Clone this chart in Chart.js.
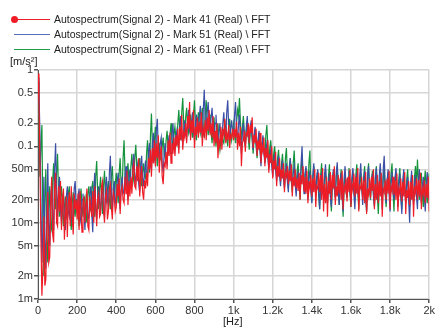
<!DOCTYPE html>
<html>
<head>
<meta charset="utf-8">
<script src="https://cdn.jsdelivr.net/npm/chart.js@4.4.0/dist/chart.umd.min.js"></script>
<style>
  body { margin: 0; background: #fff; }
  #wrap { position: relative; width: 436px; height: 328px; font-family: "Liberation Sans", Arial, sans-serif; font-size: 11px; color: #222; }
  #chart { position: absolute; left: 0; top: 0; }
  .row { position: absolute; left: 0; height: 14px; line-height: 14px; white-space: nowrap; font-size: 10.5px; }
  .swatch { position: absolute; left: 14px; top: 7px; width: 36px; border-top: 1.5px solid; }
  .dot { position: absolute; left: 11px; top: 4px; width: 7px; height: 7px; border-radius: 50%; }
  .label { position: absolute; left: 54px; top: 0; }
  .unit { position: absolute; }
</style>
</head>
<body>
<div id="wrap">
  <canvas id="chart" width="436" height="328"></canvas>
  <div id="legend"></div>
  <div class="unit" style="left:10px; top:55px;">[m/s²]</div>
  <div class="unit" style="left:223px; top:315px;">[Hz]</div>
</div>
<script>
// Series names and colours
const seriesNames = [
    'Autospectrum(Signal 2) - Mark 41 (Real) \\ FFT',
    'Autospectrum(Signal 2) - Mark 51 (Real) \\ FFT',
    'Autospectrum(Signal 2) - Mark 61 (Real) \\ FFT'
];
const seriesColors = ['#ee1c25', '#3a4fa6', '#14933c'];
const legendColors = ['#ee1c25', '#5a6cc0', '#1f9a45'];

// Spectrum values in milli m/s² (1 = 1m), one value every 5 Hz from 0 to 2000 Hz
// (one line = 100 Hz)
const freqStep = 5;

const mark41 = [
    900, 350, 60, 6, 1.1, 2.5, 12, 1.5, 1.8, 8, 25, 3, 3.5, 18, 40, 7, 5.5, 28, 45, 10,
    9, 30, 14, 35, 8, 20, 28, 6, 12, 22, 6.5, 18, 25, 9, 30, 12, 7, 24, 15, 20,
    11, 24, 8, 26, 14, 7.5, 18, 22, 10, 16, 28, 9, 8, 22, 15, 12, 26, 10, 30, 18,
    9, 20, 24, 12, 13, 30, 35, 15, 10, 22, 26, 11, 14, 28, 32, 16, 11, 25, 22, 14,
    16, 32, 22, 38, 13, 26, 30, 20, 18, 40, 24, 48, 17, 35, 22, 40, 24, 50, 60, 30,
    28, 55, 35, 70, 22, 40, 55, 25, 20, 36, 28, 45, 30, 70, 50, 90, 40, 95, 60, 120,
    55, 110, 70, 140, 45, 80, 100, 40, 32, 60, 55, 85, 50, 120, 75, 150, 60, 110, 80, 130,
    75, 140, 100, 170, 80, 180, 120, 260, 90, 150, 130, 200, 110, 250, 170, 380, 120, 220, 150, 300,
    95, 180, 140, 240, 130, 210, 150, 280, 100, 170, 140, 220, 120, 240, 160, 300, 140, 200, 130, 250,
    100, 160, 110, 200, 70, 120, 100, 180, 90, 170, 140, 230, 110, 150, 120, 190, 95, 140, 130, 170,
    120, 170, 130, 210, 90, 150, 100, 180, 55, 110, 120, 160, 85, 150, 140, 200, 110, 190, 150, 240,
    95, 140, 110, 170, 75, 120, 90, 150, 60, 100, 85, 130, 55, 95, 70, 120, 45, 80, 60, 100,
    38, 65, 50, 85, 30, 55, 40, 70, 35, 50, 38, 60, 25, 45, 40, 55, 32, 48, 35, 58,
    22, 40, 30, 50, 28, 38, 26, 45, 20, 42, 32, 55, 26, 40, 24, 48, 18, 35, 28, 42,
    22, 38, 25, 50, 16, 30, 28, 45, 25, 42, 20, 52, 14, 32, 18, 40, 12, 35, 24, 46,
    20, 42, 28, 55, 17, 30, 22, 42, 24, 38, 20, 48, 15, 30, 26, 38, 19, 40, 25, 50,
    16, 32, 27, 44, 22, 40, 24, 52, 14, 30, 28, 40, 20, 36, 18, 46, 13, 28, 23, 38,
    21, 40, 26, 50, 15, 32, 20, 42, 18, 35, 22, 45, 12, 28, 25, 36, 20, 38, 24, 48,
    15, 30, 26, 40, 23, 36, 20, 44, 14, 28, 24, 38, 19, 34, 22, 46, 13, 27, 21, 35,
    17, 34, 20, 42, 12, 30, 25, 38, 20, 36, 22, 45, 15, 28, 24, 36, 18, 32, 21, 40,
    14
];

const mark51 = [
    800, 500, 150, 20, 3, 8, 40, 6, 2.5, 15, 60, 10, 5, 22, 30, 12, 8, 50, 110, 25,
    12, 28, 40, 15, 10, 18, 25, 11, 8, 22, 30, 14, 12, 20, 22, 10, 9, 28, 35, 16,
    14, 22, 28, 12, 10, 20, 24, 14, 8, 16, 20, 11, 12, 24, 30, 13, 7.5, 26, 45, 15,
    11, 22, 30, 18, 15, 24, 28, 14, 12, 30, 40, 20, 16, 45, 75, 25, 14, 28, 35, 18,
    20, 35, 45, 22, 15, 30, 40, 24, 25, 42, 55, 28, 20, 38, 50, 30, 30, 60, 80, 40,
    35, 50, 60, 32, 25, 55, 75, 38, 30, 48, 65, 40, 40, 85, 110, 55, 50, 110, 150, 70,
    60, 160, 230, 90, 70, 110, 130, 60, 45, 80, 110, 65, 60, 100, 140, 85, 80, 150, 200, 110,
    90, 130, 160, 110, 100, 190, 250, 130, 110, 170, 220, 140, 130, 220, 300, 160, 140, 210, 280, 150,
    120, 200, 260, 170, 150, 250, 340, 180, 130, 300, 550, 220, 160, 280, 380, 200, 150, 240, 320, 170,
    120, 200, 260, 140, 95, 150, 200, 120, 110, 200, 280, 150, 130, 280, 400, 180, 120, 170, 220, 150,
    140, 260, 380, 170, 110, 190, 260, 130, 80, 150, 200, 120, 100, 180, 250, 140, 120, 170, 220, 130,
    90, 140, 180, 110, 80, 120, 160, 90, 55, 100, 140, 80, 60, 90, 110, 70, 50, 75, 90, 55,
    40, 60, 80, 48, 35, 55, 75, 42, 30, 50, 65, 38, 28, 45, 60, 35, 25, 50, 70, 40,
    30, 45, 55, 32, 22, 38, 48, 30, 26, 60, 100, 40, 24, 42, 55, 30, 20, 38, 48, 26,
    18, 40, 60, 30, 24, 40, 50, 28, 15, 32, 45, 25, 22, 42, 58, 30, 18, 34, 44, 22,
    16, 36, 50, 28, 21, 45, 62, 30, 17, 33, 45, 24, 14, 38, 55, 28, 22, 38, 48, 25,
    18, 38, 52, 24, 15, 32, 45, 26, 20, 42, 60, 30, 17, 34, 48, 24, 14, 40, 55, 28,
    23, 36, 44, 22, 16, 38, 52, 28, 19, 42, 60, 30, 15, 50, 75, 32, 18, 36, 50, 24,
    14, 32, 46, 26, 20, 38, 52, 28, 16, 32, 44, 22, 13, 35, 50, 26, 18, 30, 40, 20,
    10, 30, 48, 26, 17, 32, 42, 22, 15, 36, 50, 28, 18, 30, 40, 22, 14, 32, 46, 28,
    20
];

const mark61 = [
    700, 200, 40, 100, 190, 10, 2, 20, 50, 6, 3, 15, 30, 9, 8, 35, 60, 20, 15, 45,
    80, 25, 12, 22, 30, 14, 9, 16, 22, 12, 11, 24, 30, 13, 8, 18, 25, 15, 12, 20,
    20, 12, 9, 18, 28, 16, 12, 20, 22, 13, 10, 24, 30, 18, 14, 28, 35, 20, 12, 40,
    64, 25, 15, 28, 40, 20, 13, 30, 48, 24, 18, 28, 35, 20, 15, 40, 55, 28, 20, 32,
    45, 26, 18, 45, 70, 32, 25, 70, 120, 45, 30, 45, 60, 35, 28, 55, 80, 42, 35, 70,
    105, 55, 40, 55, 70, 42, 30, 45, 60, 40, 38, 80, 120, 60, 45, 140, 270, 100, 60, 120,
    180, 90, 55, 80, 110, 70, 65, 100, 130, 80, 70, 120, 160, 100, 85, 140, 200, 120, 100, 140,
    180, 130, 110, 200, 300, 160, 120, 280, 430, 200, 140, 240, 320, 180, 150, 200, 260, 170, 130, 250,
    400, 200, 120, 200, 280, 180, 150, 240, 320, 170, 130, 260, 400, 200, 140, 200, 260, 150, 110, 170,
    240, 140, 100, 150, 200, 120, 90, 120, 150, 120, 110, 150, 190, 130, 100, 170, 230, 150, 120, 160,
    200, 140, 110, 200, 300, 250, 430, 200, 120, 180, 250, 150, 100, 160, 220, 130, 90, 150, 200, 120,
    80, 130, 170, 100, 70, 110, 150, 90, 65, 100, 130, 90, 75, 140, 190, 100, 60, 95, 120, 75,
    50, 80, 100, 60, 40, 70, 90, 50, 35, 60, 80, 45, 30, 70, 95, 45, 28, 55, 70, 35,
    25, 60, 88, 40, 30, 48, 60, 30, 20, 50, 70, 35, 28, 42, 52, 30, 22, 60, 88, 30,
    19, 40, 55, 32, 26, 38, 48, 22, 15, 42, 60, 30, 23, 38, 50, 26, 18, 40, 58, 24,
    14, 32, 46, 28, 22, 40, 55, 26, 17, 36, 50, 22, 12, 30, 44, 26, 21, 38, 52, 24,
    16, 34, 48, 28, 20, 42, 58, 26, 15, 32, 45, 28, 22, 40, 55, 24, 14, 42, 60, 26,
    20, 36, 48, 24, 17, 40, 55, 22, 13, 30, 44, 26, 20, 38, 52, 24, 16, 34, 46, 28,
    22, 44, 60, 26, 14, 34, 48, 28, 19, 38, 52, 22, 15, 30, 44, 28, 21, 36, 50, 22,
    16, 30, 42, 24, 19, 40, 55, 30, 67, 35, 20, 32, 45, 24, 16, 34, 48, 26, 18, 30,
    44
];

// Axis ticks
const yTickValues = [1, 2, 5, 10, 20, 50, 100, 200, 500, 1000];
const yTickLabels = ['1m', '2m', '5m', '10m', '20m', '50m', '0.1', '0.2', '0.5', '1'];
const xTickValues = [0, 200, 400, 600, 800, 1000, 1200, 1400, 1600, 1800, 2000];
const xTickLabels = ['0', '200', '400', '600', '800', '1k', '1.2k', '1.4k', '1.6k', '1.8k', '2k'];

// Legend (HTML)
function buildLegend() {
    const legend = document.getElementById('legend');
    seriesNames.forEach((name, i) => {
        const row = document.createElement('div');
        row.className = 'row';
        row.style.top = (12 + i * 15) + 'px';

        const swatch = document.createElement('div');
        swatch.className = 'swatch';
        swatch.style.borderColor = legendColors[i];
        row.appendChild(swatch);

        if (i === 0) {
            const dot = document.createElement('div');
            dot.className = 'dot';
            dot.style.background = legendColors[i];
            row.appendChild(dot);
        }

        const label = document.createElement('span');
        label.className = 'label';
        label.textContent = name;
        row.appendChild(label);

        legend.appendChild(row);
    });
}

function toPoints(values) {
    return values.map((v, i) => ({ x: i * freqStep, y: v }));
}

buildLegend();

const allSeries = [mark41, mark51, mark61];
const datasets = allSeries.map((values, i) => ({
    label: seriesNames[i],
    data: toPoints(values),
    borderColor: seriesColors[i],
    borderWidth: 1.2,
    pointRadius: 0,
    tension: 0,
    fill: false
}));

const tickFont = { family: '"Liberation Sans", Arial, sans-serif', size: 11 };

new Chart(document.getElementById('chart'), {
    type: 'line',
    data: { datasets },
    options: {
        responsive: false,
        animation: false,
        events: [],
        layout: { padding: { top: 70, right: 6, bottom: 0, left: 0 } },
        plugins: {
            legend: { display: false },
            tooltip: { enabled: false }
        },
        scales: {
            x: {
                type: 'linear',
                min: 0,
                max: 2000,
                afterBuildTicks: (scale) => {
                    scale.ticks = xTickValues.map(v => ({ value: v }));
                },
                afterFit: (scale) => { scale.height = 29; },
                ticks: {
                    color: '#333',
                    font: tickFont,
                    padding: 1,
                    maxRotation: 0,
                    autoSkip: false,
                    callback: (v, i) => xTickLabels[i]
                },
                grid: { color: '#d6d6d6', lineWidth: 1.5, tickColor: '#555', tickLength: 4 },
                border: { color: '#555', width: 1 }
            },
            y: {
                type: 'logarithmic',
                min: 1,
                max: 1000,
                afterBuildTicks: (scale) => {
                    scale.ticks = yTickValues.map(v => ({ value: v }));
                },
                afterFit: (scale) => { scale.width = 38; },
                ticks: {
                    color: '#333',
                    font: tickFont,
                    padding: 1,
                    autoSkip: false,
                    callback: (v, i) => yTickLabels[i]
                },
                grid: { color: '#d6d6d6', lineWidth: 1.5, tickColor: '#555', tickLength: 4 },
                border: { color: '#555', width: 1 }
            }
        }
    }
});
</script>
</body>
</html>
